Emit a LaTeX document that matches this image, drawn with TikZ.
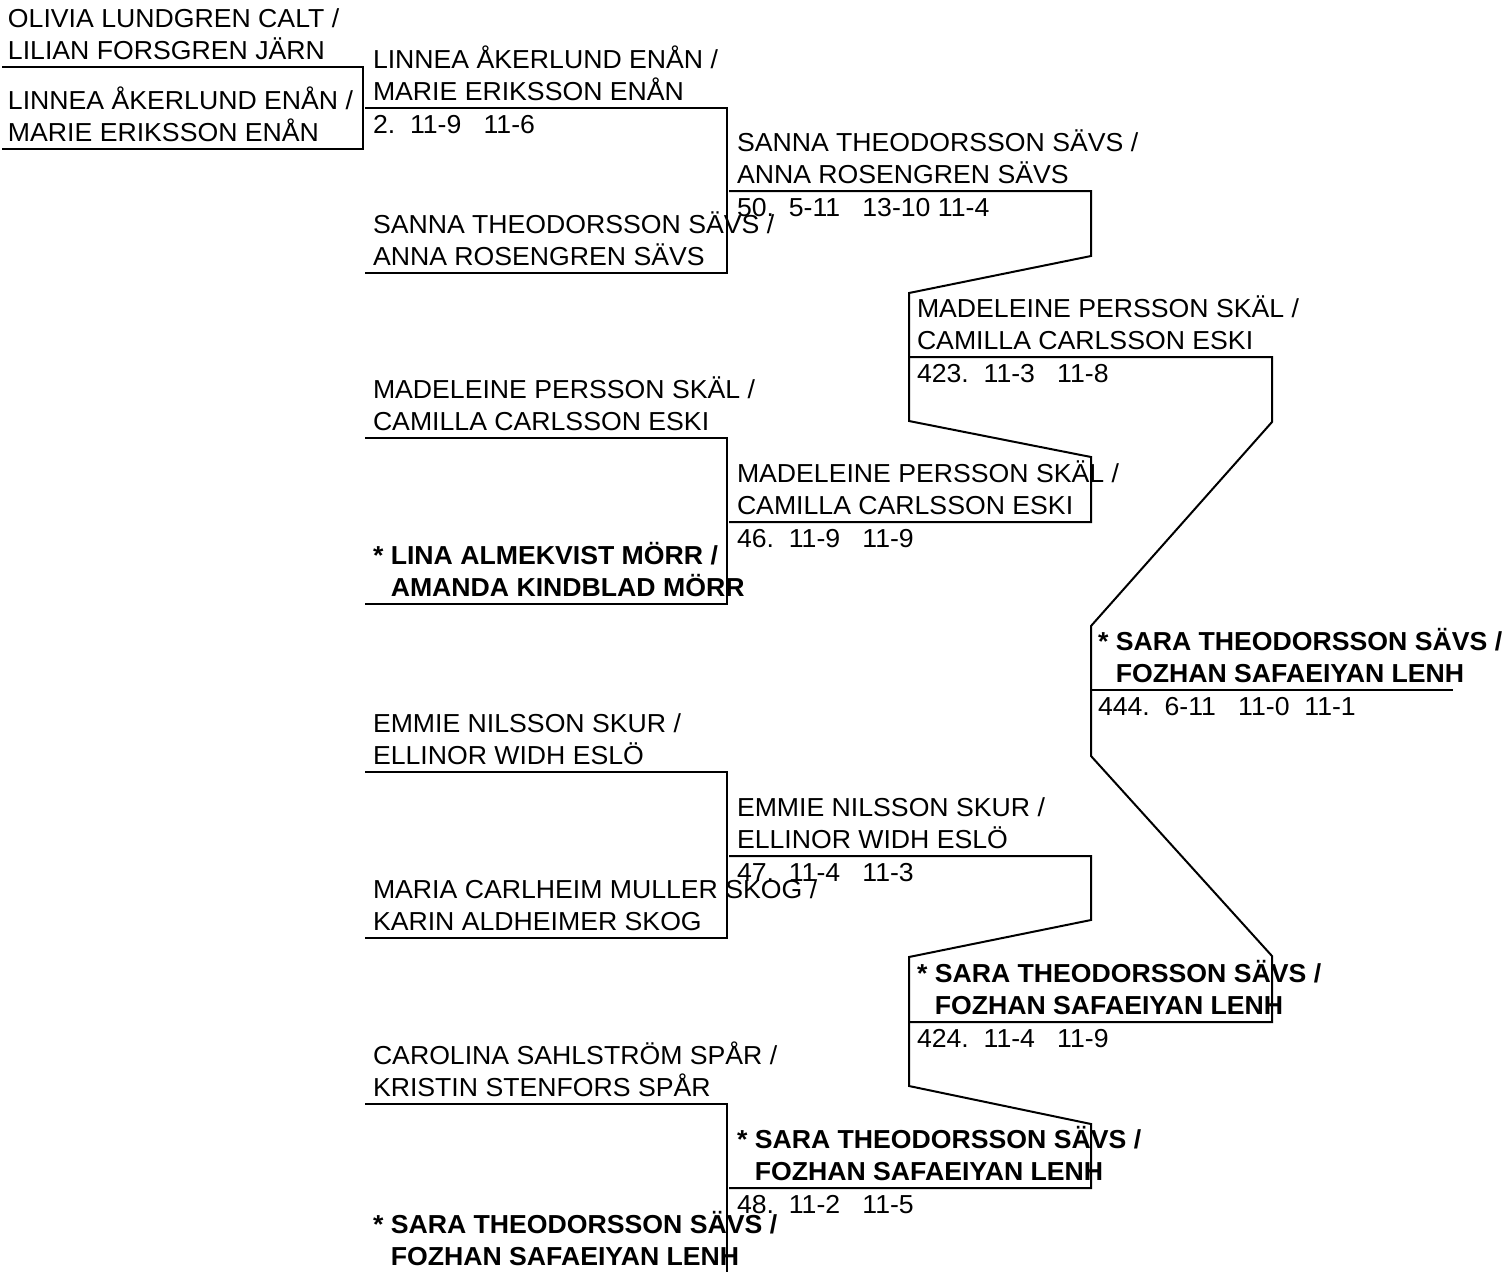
\documentclass[tikz,border=0pt]{standalone}
\usepackage{fontspec}
\setmainfont{Liberation Sans}[FakeStretch=1.025]
\begin{document}
\begin{tikzpicture}[x=0.5pt,y=0.5pt,line width=1pt]
\tikzstyle{every node}+=[inner sep=0pt,anchor=base west,align=left,font=\fontsize{13}{16.25}\selectfont]
\tikzstyle{winner}=[font=\fontsize{13}{16.25}\selectfont\bfseries]
\useasboundingbox (0,0) rectangle (1511,-1271);
% round 1
\draw [black] (2,-67) -- (363,-67) -- (363,-149) -- (2,-149);
\draw (7,-59.5) node (n11) {OLIVIA LUNDGREN CALT /\\LILIAN FORSGREN JÄRN};
\draw (7,-141.5) node (n12) {LINNEA ÅKERLUND ENÅN /\\MARIE ERIKSSON ENÅN};
% round 2
\draw [black] (365,-108) -- (727,-108) -- (727,-273) -- (365,-273);
\draw [black] (365,-438) -- (727,-438) -- (727,-604) -- (365,-604);
\draw [black] (365,-772) -- (727,-772) -- (727,-938) -- (365,-938);
\draw [black] (365,-1104) -- (727,-1104) -- (727,-1273) -- (365,-1273);
\draw (372,-100.5) node (n21) {LINNEA ÅKERLUND ENÅN /\\MARIE ERIKSSON ENÅN};
\draw (372,-133.5) node (s21) {2.~~11-9~~~11-6};
\draw (372,-265.5) node (n22) {SANNA THEODORSSON SÄVS /\\ANNA ROSENGREN SÄVS};
\draw (372,-430.5) node (n23) {MADELEINE PERSSON SKÄL /\\CAMILLA CARLSSON ESKI};
\draw (372,-596.5) node [winner] (n24) {* LINA ALMEKVIST MÖRR /\\\hphantom{* }AMANDA KINDBLAD MÖRR};
\draw (372,-764.5) node (n25) {EMMIE NILSSON SKUR /\\ELLINOR WIDH ESLÖ};
\draw (372,-930.5) node (n26) {MARIA CARLHEIM MULLER SKOG /\\KARIN ALDHEIMER SKOG};
\draw (372,-1096.5) node (n27) {CAROLINA SAHLSTRÖM SPÅR /\\KRISTIN STENFORS SPÅR};
\draw (372,-1265.5) node [winner] (n28) {* SARA THEODORSSON SÄVS /\\\hphantom{* }FOZHAN SAFAEIYAN LENH};
% round 3
\draw [black] (729,-191) -- (1091,-191) -- (1091,-256) -- (909,-293) -- (909,-421) -- (1091,-457) -- (1091,-522) -- (729,-522);
\draw [black] (729,-856) -- (1091,-856) -- (1091,-920) -- (909,-957) -- (909,-1086) -- (1091,-1124) -- (1091,-1188) -- (729,-1188);
\draw (736,-183.5) node (n31) {SANNA THEODORSSON SÄVS /\\ANNA ROSENGREN SÄVS};
\draw (736,-216.5) node (s31) {50.~~5-11~~~13-10 11-4};
\draw (736,-514.5) node (n32) {MADELEINE PERSSON SKÄL /\\CAMILLA CARLSSON ESKI};
\draw (736,-547.5) node (s32) {46.~~11-9~~~11-9};
\draw (736,-848.5) node (n33) {EMMIE NILSSON SKUR /\\ELLINOR WIDH ESLÖ};
\draw (736,-881.5) node (s33) {47.~~11-4~~~11-3};
\draw (736,-1180.5) node [winner] (n34) {* SARA THEODORSSON SÄVS /\\\hphantom{* }FOZHAN SAFAEIYAN LENH};
\draw (736,-1213.5) node (s34) {48.~~11-2~~~11-5};
% round 4
\draw [black] (909,-357) -- (1272,-357) -- (1272,-422) -- (1091,-626) -- (1091,-756) -- (1272,-956) -- (1272,-1022) -- (909,-1022);
\draw (916,-349.5) node (n41) {MADELEINE PERSSON SKÄL /\\CAMILLA CARLSSON ESKI};
\draw (916,-382.5) node (s41) {423.~~11-3~~~11-8};
\draw (916,-1014.5) node [winner] (n42) {* SARA THEODORSSON SÄVS /\\\hphantom{* }FOZHAN SAFAEIYAN LENH};
\draw (916,-1047.5) node (s42) {424.~~11-4~~~11-9};
% final
\draw [black] (1091,-690) -- (1453,-690);
\draw (1097,-682.5) node [winner] (n51) {* SARA THEODORSSON SÄVS /\\\hphantom{* }FOZHAN SAFAEIYAN LENH};
\draw (1097,-715.5) node (s51) {444.~~6-11~~~11-0~~11-1};
\end{tikzpicture}
\end{document}
